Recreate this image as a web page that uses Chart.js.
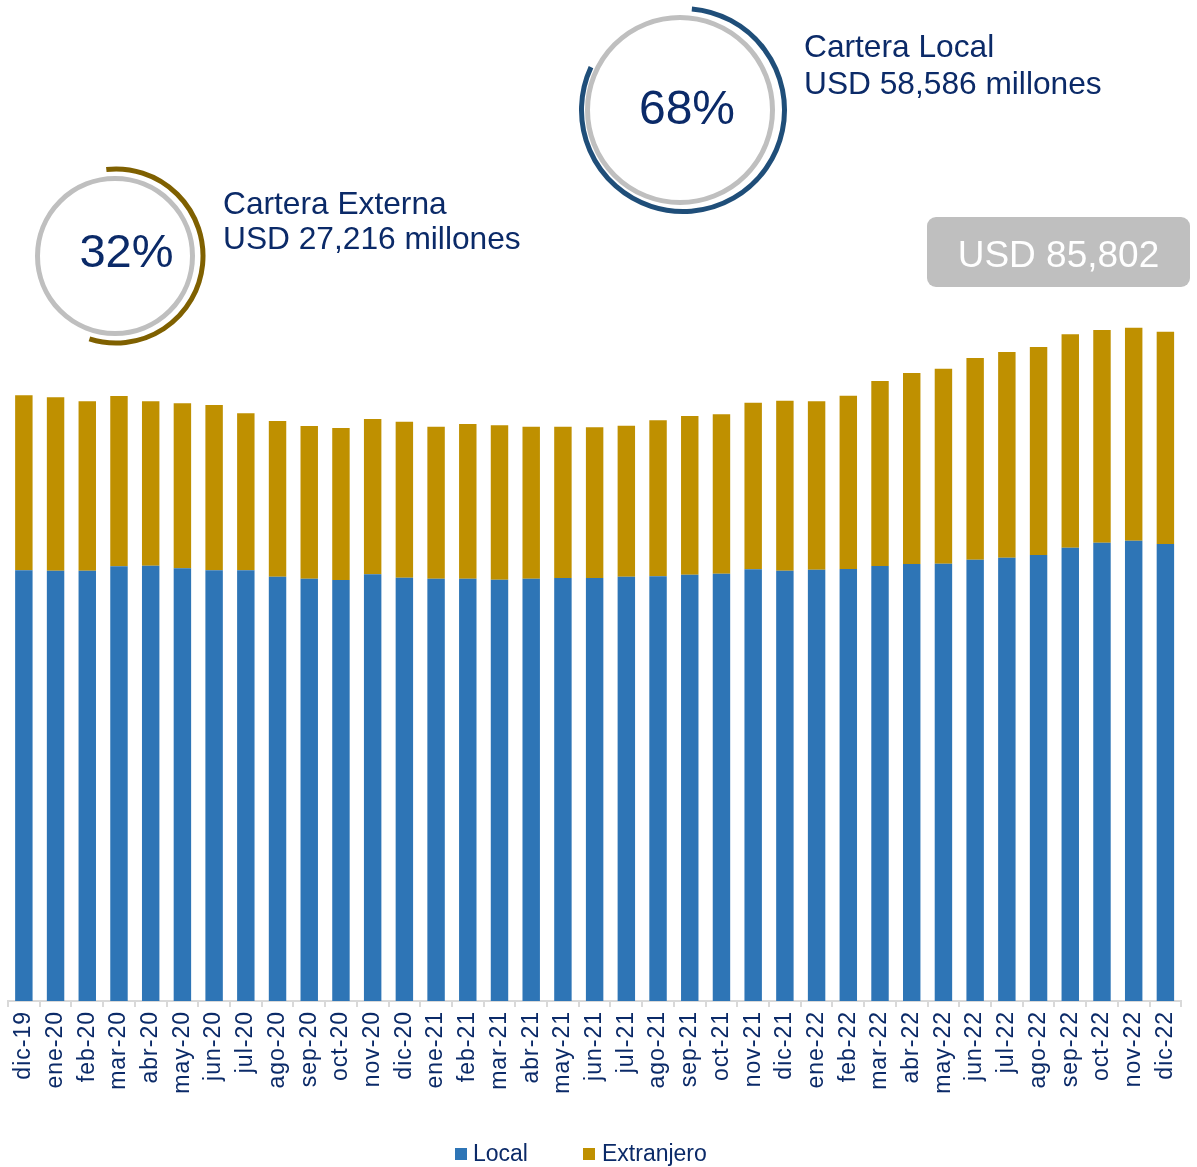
<!DOCTYPE html>
<html lang="es">
<head>
    <meta charset="UTF-8">
    <title>Cartera</title>
    <script src="https://cdn.jsdelivr.net/npm/chart.js@4.4.1/dist/chart.umd.min.js"></script>
    <style>
        body { margin: 0; background: #fff; }
        #wrap { position: relative; width: 1197px; height: 1167px; }
        #wrap canvas, #wrap svg { position: absolute; left: 0; top: 0; }
        svg { pointer-events: none; font-family: "Liberation Sans", Arial, sans-serif; }
    </style>
</head>
<body>
<div id="wrap">
    <canvas id="myChart" width="1197" height="1167"></canvas>
    <svg id="notes" width="1197" height="1167"></svg>
</div>

<script>
    // meses (dic-19 a dic-22)
    const months = ['dic-19','ene-20','feb-20','mar-20','abr-20','may-20','jun-20','jul-20','ago-20','sep-20','oct-20','nov-20',
        'dic-20','ene-21','feb-21','mar-21','abr-21','may-21','jun-21','jul-21','ago-21','sep-21','oct-21','nov-21',
        'dic-21','ene-22','feb-22','mar-22','abr-22','may-22','jun-22','jul-22','ago-22','sep-22','oct-22','nov-22','dic-22'];

    // USD millones
    const local = [55220, 55160, 55160, 55730, 55800, 55470, 55220, 55220, 54400, 54140, 53970, 54700,
        54270, 54140, 54140, 54010, 54140, 54230, 54230, 54400, 54450, 54650, 54780, 55340,
        55160, 55290, 55380, 55770, 56020, 56060, 56580, 56830, 57180, 58110, 58750, 59010, 58586];
    const extranjero = [22430, 22230, 21720, 21830, 21080, 21160, 21190, 20120, 19960, 19580, 19490, 19910,
        20000, 19490, 19830, 19800, 19490, 19400, 19320, 19350, 20000, 20350, 20440, 21360,
        21800, 21590, 22220, 23710, 24490, 25000, 25850, 26370, 26660, 27360, 27270, 27310, 27216];

    const seriesNames = ['Local', 'Extranjero'];
    const navy = '#0b2a68';
    const blue = '#2e75b6';
    const gold = '#bf9000';

    const spacing = {
        id: 'spacing',
        beforeDraw(chart) { chart.ctx.letterSpacing = '1px'; }
    };

    const ctx = document.getElementById('myChart').getContext('2d');
    const myChart = new Chart(ctx, {
        type: 'bar',
        data: {
            labels: months,
            datasets: [
                { label: seriesNames[0], data: local, backgroundColor: blue },
                { label: seriesNames[1], data: extranjero, backgroundColor: gold }
            ]
        },
        options: {
            responsive: false,
            animation: false,
            devicePixelRatio: 1,
            layout: { padding: { top: 221, left: 8, right: 0, bottom: 0 } },
            datasets: { bar: { barPercentage: 0.55, categoryPercentage: 1 } },
            plugins: { legend: { display: false }, tooltip: { enabled: false } },
            scales: {
                x: {
                    stacked: true,
                    afterFit(scale) { scale.height = 166; },
                    grid: { display: true, drawOnChartArea: false, tickLength: 6, color: '#d9d9d9', lineWidth: 2, offset: true },
                    border: { display: true, color: '#d9d9d9', width: 2 },
                    ticks: {
                        autoSkip: false, minRotation: 90, maxRotation: 90, padding: 4,
                        color: navy,
                        font: { family: '"Liberation Sans", Arial, sans-serif', size: 23 }
                    }
                },
                y: { stacked: true, display: false, min: 0, max: 100000 }
            }
        },
        plugins: [spacing]
    });

    // anillos y textos de arriba
    const svg = document.getElementById('notes');
    const NS = 'http://www.w3.org/2000/svg';

    function add(tag, attrs, text) {
        const el = document.createElementNS(NS, tag);
        for (const k in attrs) el.setAttribute(k, attrs[k]);
        if (text) el.textContent = text;
        svg.appendChild(el);
        return el;
    }

    // grados en sentido horario desde las 12
    function arc(cx, cy, r, a0, a1) {
        const p = a => [cx + r * Math.sin(a * Math.PI / 180), cy - r * Math.cos(a * Math.PI / 180)];
        const [x0, y0] = p(a0), [x1, y1] = p(a1);
        const big = (a1 - a0) > 180 ? 1 : 0;
        return `M${x0},${y0} A${r},${r} 0 ${big} 1 ${x1},${y1}`;
    }

    add('circle', { cx: 680, cy: 110, r: 92.5, fill: 'none', stroke: '#bfbfbf', 'stroke-width': 5 });
    add('path', { d: arc(683, 110, 101.5, 5, 295), fill: 'none', stroke: '#1f4e79', 'stroke-width': 5 });
    add('text', { x: 687, y: 124, 'text-anchor': 'middle', 'font-size': 48, fill: navy }, '68%');

    add('circle', { cx: 115, cy: 256, r: 77.5, fill: 'none', stroke: '#bfbfbf', 'stroke-width': 5 });
    add('path', { d: arc(116, 256, 87, -6.4, 197.8), fill: 'none', stroke: '#7f6000', 'stroke-width': 5 });
    add('text', { x: 126.5, y: 267, 'text-anchor': 'middle', 'font-size': 47, fill: navy }, '32%');

    add('text', { x: 804, y: 57, 'font-size': 31.7, fill: navy }, 'Cartera Local');
    add('text', { x: 804, y: 94, 'font-size': 31.7, fill: navy }, 'USD 58,586 millones');
    add('text', { x: 223, y: 214, 'font-size': 31.7, fill: navy }, 'Cartera Externa');
    add('text', { x: 223, y: 249, 'font-size': 31.7, fill: navy }, 'USD 27,216 millones');

    add('rect', { x: 927, y: 217, width: 263, height: 70, rx: 9, fill: '#bfbfbf' });
    add('text', { x: 1058.5, y: 267, 'text-anchor': 'middle', 'font-size': 37, fill: '#ffffff' }, 'USD 85,802');

    // leyenda
    add('rect', { x: 455, y: 1148, width: 12, height: 12, fill: blue });
    add('text', { x: 473, y: 1161, 'font-size': 23, fill: navy }, seriesNames[0]);
    add('rect', { x: 583, y: 1148, width: 12, height: 12, fill: gold });
    add('text', { x: 602, y: 1161, 'font-size': 23, fill: navy }, seriesNames[1]);
</script>
</body>
</html>
